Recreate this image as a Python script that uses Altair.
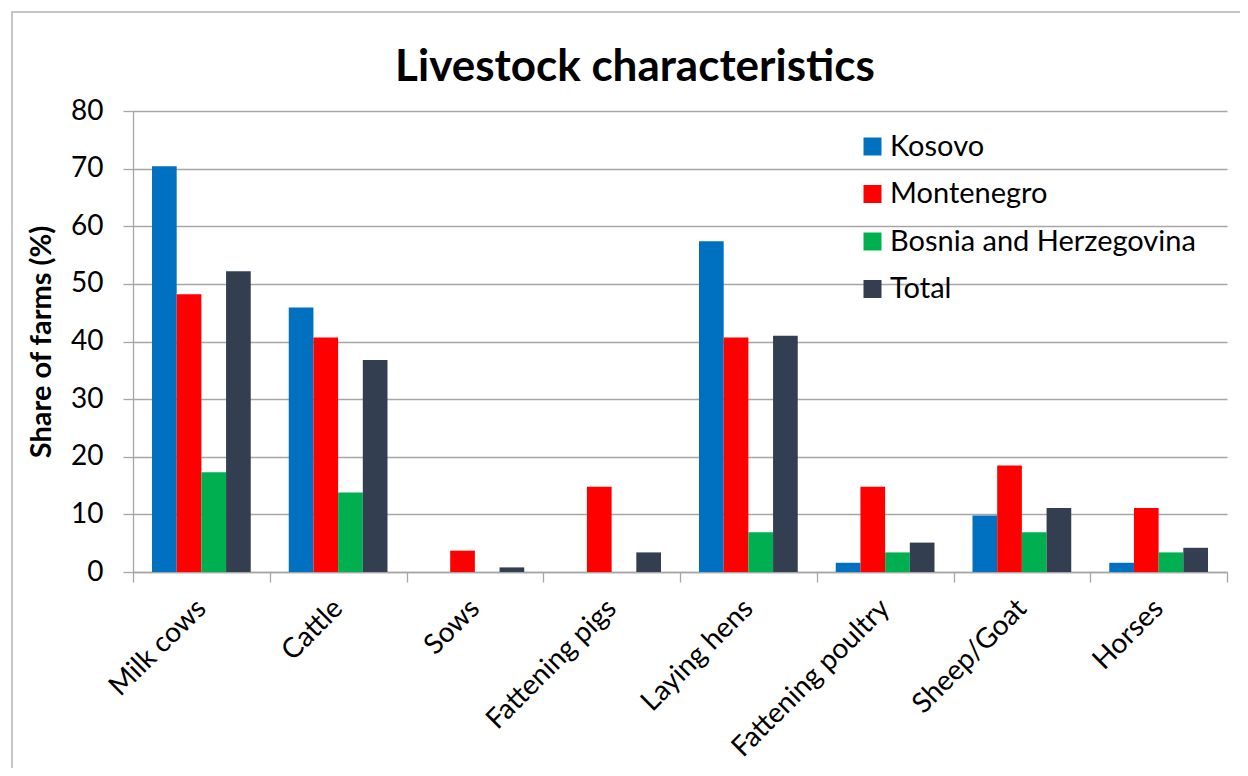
import altair as alt
import pandas as pd

categories = ["Milk cows", "Cattle", "Sows", "Fattening pigs", "Laying hens",
              "Fattening poultry", "Sheep/Goat", "Horses"]
countries = ["Kosovo", "Montenegro", "Bosnia and Herzegovina", "Total"]
kosovo = [70.4, 45.9, 0.0, 0.0, 57.4, 1.6, 9.8, 1.6]
montenegro = [48.2, 40.7, 3.7, 14.8, 40.7, 14.8, 18.5, 11.1]
bosnia = [17.3, 13.8, 0.0, 0.0, 6.9, 3.4, 6.9, 3.4]
total = [52.2, 36.8, 0.8, 3.4, 41.0, 5.1, 11.1, 4.2]
colors = ["#0070C0", "#FF0000", "#00B050", "#333F50"]
y_ticks = [0, 10, 20, 30, 40, 50, 60, 70, 80]

series = [kosovo, montenegro, bosnia, total]
rows = []
for country, vals in zip(countries, series):
    for cat, v in zip(categories, vals):
        rows.append({"Category": cat, "Country": country, "Value": v})
df = pd.DataFrame(rows)

FONT = "Lato"
GRID = "#a6a6a6"

frame = alt.Chart(alt.Data(values=[{}])).mark_rect(
    fill="white", fillOpacity=0, stroke="#b4b4b4", strokeWidth=1.5
).encode(
    x=alt.value(-121), y=alt.value(-99), x2=alt.value(1400), y2=alt.value(900)
)

bars = alt.Chart(df).mark_bar().encode(
    x=alt.X("Category:N", sort=categories,
            scale=alt.Scale(paddingInner=0, paddingOuter=0),
            axis=alt.Axis(title=None, labelAngle=-45, labelAlign="right",
                          labelBaseline="middle", labelFontSize=28, labelFont=FONT,
                          labelColor="black", labelPadding=22, labelLimit=0,
                          tickSize=10, tickBand="extent", tickColor=GRID,
                          tickWidth=1.3, domainColor=GRID, domainWidth=1.3,
                          grid=False)),
    xOffset=alt.XOffset("Country:N", sort=countries,
                        scale=alt.Scale(paddingInner=0, paddingOuter=0.77)),
    y=alt.Y("Value:Q", scale=alt.Scale(domain=[0, 80], nice=False),
            axis=alt.Axis(values=y_ticks, title="Share of farms (%)",
                          titleFont=FONT, titleFontSize=29, titleFontWeight="bold",
                          titleColor="black", titlePadding=14,
                          labelFont=FONT, labelFontSize=28, labelColor="black",
                          labelPadding=20, tickSize=10, tickColor=GRID, tickWidth=1.3,
                          domainColor=GRID, domainWidth=1.3,
                          grid=True, gridColor=GRID, gridWidth=1.3)),
    color=alt.Color("Country:N", sort=countries,
                    scale=alt.Scale(domain=countries, range=colors),
                    legend=alt.Legend(title=None, orient="none", legendX=725, legendY=21,
                                      symbolType="square", symbolSize=324,
                                      symbolStrokeWidth=0, symbolOpacity=1,
                                      labelFont=FONT, labelFontSize=29,
                                      labelColor="black", labelOffset=3,
                                      rowPadding=17.5, labelLimit=0)),
)

chart = alt.layer(frame, bars).properties(
    width=1094, height=461,
    title=alt.Title("Livestock characteristics", font=FONT, fontSize=44,
                    fontWeight="bold", color="black", anchor="middle",
                    frame="group", dx=-45, offset=-114, baseline="alphabetic"),
    padding={"left": 125, "top": 103, "right": 13, "bottom": 196},
    autosize=alt.AutoSizeParams(type="none"),
).configure_view(strokeWidth=0)

chart.save("out.html", embed_options={"renderer": "svg", "actions": False})
